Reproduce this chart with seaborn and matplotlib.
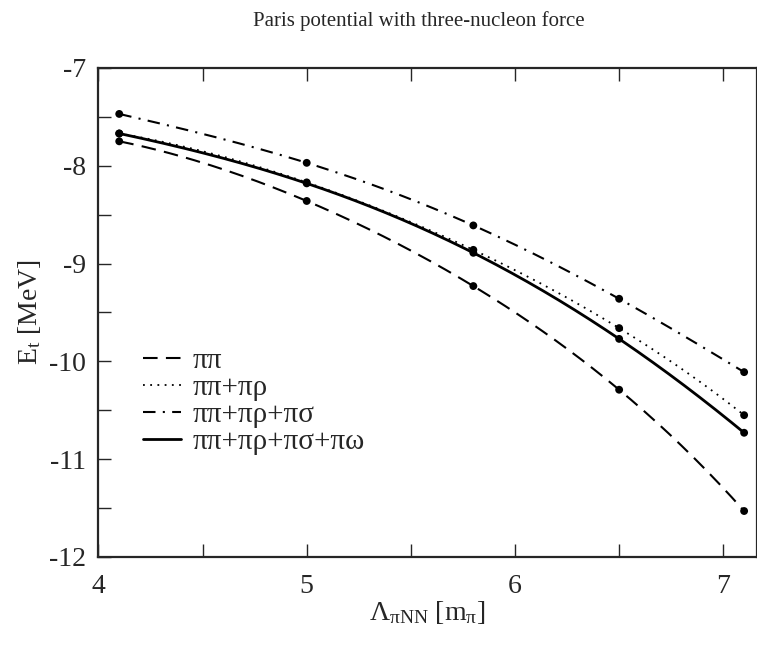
import numpy as np
import pandas as pd
import matplotlib
matplotlib.use("Agg")
import matplotlib.pyplot as plt
from matplotlib.ticker import MultipleLocator
import seaborn as sns

# cutoff values and triton binding energies
cutoff = [4.1, 5.0, 5.8, 6.5, 7.1]
e_pipi = [-7.75, -8.36, -9.23, -10.29, -11.53]
e_pirho = [-7.67, -8.17, -8.86, -9.66, -10.55]
e_pisigma = [-7.47, -7.97, -8.61, -9.36, -10.11]
e_piomega = [-7.67, -8.18, -8.89, -9.77, -10.73]
labels = ["ππ", "ππ+πρ", "ππ+πρ+πσ", "ππ+πρ+πσ+πω"]

sns.set_style("ticks")
plt.rcParams["font.family"] = ["Liberation Serif", "DejaVu Serif"]
plt.rcParams["mathtext.fontset"] = "custom"
plt.rcParams["mathtext.rm"] = "Liberation Serif"
plt.rcParams["mathtext.it"] = "Liberation Serif:italic"
plt.rcParams["axes.unicode_minus"] = False

fig = plt.figure(figsize=(7.57, 6.46), dpi=100)
ax = fig.add_axes([0.130, 0.1378, 0.8695, 0.757])

styles = [
    dict(linestyle=(0, (7, 4)), linewidth=1.5),
    dict(linestyle=(0, (1, 3)), linewidth=1.3),
    dict(linestyle=(0, (6, 3.5, 1, 3.5)), linewidth=1.5),
    dict(linestyle="-", linewidth=2.0),
]

series = [e_pipi, e_pirho, e_pisigma, e_piomega]
xs = np.linspace(cutoff[0], cutoff[-1], 200)
for vals, lab, st in zip(series, labels, styles):
    # smooth curve through the five points, as in the original
    coef = np.polyfit(cutoff, vals, 4)
    curve = pd.DataFrame({"x": xs, "y": np.polyval(coef, xs)})
    sns.lineplot(data=curve, x="x", y="y", ax=ax, color="black", label=lab, **st)
    pts = pd.DataFrame({"x": cutoff, "y": vals})
    sns.scatterplot(data=pts, x="x", y="y", ax=ax, color="black", s=32,
                    edgecolor="none", zorder=5, legend=False)

ax.set_xlim(4, 7.16)
ax.set_ylim(-12, -7)
ax.xaxis.set_major_locator(MultipleLocator(1))
ax.xaxis.set_minor_locator(MultipleLocator(0.5))
ax.yaxis.set_major_locator(MultipleLocator(1))
ax.yaxis.set_minor_locator(MultipleLocator(0.5))
ax.tick_params(which="both", direction="in", top=True, right=False,
               length=9.5, width=1.0, labelsize=20, pad=9)
ax.tick_params(axis="x", which="both", pad=12)
for sp in ax.spines.values():
    sp.set_linewidth(1.6)

ax.set_xlabel(r"$\mathrm{Λ_{πNN}}$ [m$_{\mathrm{π}}$]", fontsize=20, labelpad=0)
ax.set_ylabel(r"E$_\mathrm{t}$ [MeV]", fontsize=20, labelpad=4)
fig.text(0.553, 0.968, "Paris potential with three-nucleon force",
         ha="center", va="center", fontsize=15)

ax.legend(loc="upper left", bbox_to_anchor=(0.068, 0.428), frameon=False,
          fontsize=21, handlelength=1.3, handletextpad=0.4,
          labelspacing=0.02, borderpad=0, borderaxespad=0)

fig.savefig("out.png", dpi=100)
